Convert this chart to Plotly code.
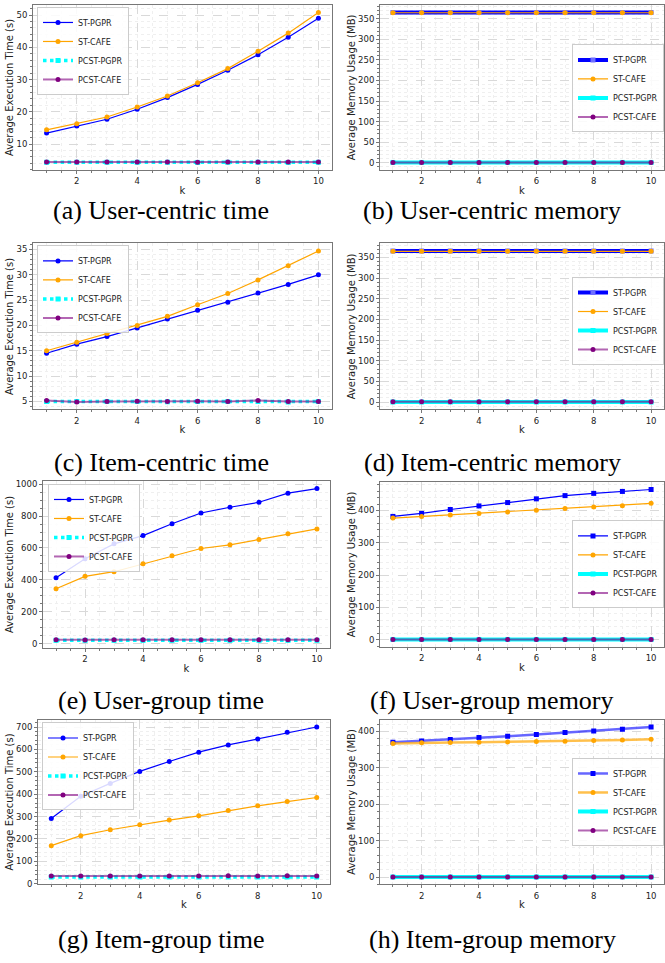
import plotly.graph_objects as go

W, H = 665, 963

k = [1, 2, 3, 4, 5, 6, 7, 8, 9, 10]
series_names = ["ST-PGPR", "ST-CAFE", "PCST-PGPR", "PCST-CAFE"]

# (a) User-centric time (s)
uc_time_st_pgpr = [13.4, 15.6, 17.7, 20.8, 24.4, 28.5, 32.9, 37.7, 43.1, 49.0]
uc_time_st_cafe = [14.4, 16.3, 18.4, 21.5, 24.9, 29.0, 33.4, 38.8, 44.4, 50.8]
uc_time_pcst_pgpr = [4.35, 4.35, 4.35, 4.35, 4.35, 4.3, 4.35, 4.35, 4.3, 4.35]
uc_time_pcst_cafe = [4.4, 4.4, 4.4, 4.45, 4.4, 4.35, 4.4, 4.4, 4.4, 4.4]

# (b) User-centric memory (MB)
uc_mem_st_pgpr = [365.5, 365.5, 365.5, 365.5, 365.5, 365.5, 365.5, 365.5, 365.5, 365.5]
uc_mem_st_cafe = [364.8, 364.8, 364.8, 364.8, 364.8, 364.8, 364.8, 364.8, 364.8, 364.8]
uc_mem_pcst_pgpr = [0.5, 0.5, 0.5, 0.5, 0.5, 0.5, 0.5, 0.5, 0.5, 0.5]
uc_mem_pcst_cafe = [0.6, 0.6, 0.6, 0.6, 0.6, 0.6, 0.6, 0.6, 0.6, 0.6]

# (c) Item-centric time (s)
ic_time_st_pgpr = [14.5, 16.3, 17.8, 19.5, 21.3, 23.0, 24.6, 26.4, 28.1, 30.0]
ic_time_st_cafe = [15.0, 16.7, 18.4, 20.0, 21.8, 24.1, 26.3, 29.0, 31.8, 34.7]
ic_time_pcst_pgpr = [5.0, 5.0, 5.0, 5.0, 4.95, 5.0, 5.0, 5.0, 4.9, 5.0]
ic_time_pcst_cafe = [5.2, 4.9, 5.0, 5.05, 5.0, 5.05, 5.0, 5.2, 5.0, 5.0]

# (d) Item-centric memory (MB)
ic_mem_st_pgpr = [365.5, 365.5, 365.5, 365.5, 365.5, 365.5, 365.5, 365.5, 365.5, 365.5]
ic_mem_st_cafe = [364.8, 364.8, 364.8, 364.8, 364.8, 364.8, 364.8, 364.8, 364.8, 364.8]
ic_mem_pcst_pgpr = [0.5, 0.5, 0.5, 0.5, 0.5, 0.5, 0.5, 0.5, 0.5, 0.5]
ic_mem_pcst_cafe = [0.6, 0.6, 0.6, 0.6, 0.6, 0.6, 0.6, 0.6, 0.6, 0.6]

# (e) User-group time (s)
ug_time_st_pgpr = [413, 532, 626, 678, 752, 820, 856, 887, 944, 973]
ug_time_st_cafe = [344, 422, 451, 501, 551, 597, 620, 653, 689, 720]
ug_time_pcst_pgpr = [20, 20, 20, 20, 20, 20, 20, 20, 20, 20]
ug_time_pcst_cafe = [24, 23, 24, 24, 24, 24, 24, 24, 24, 24]

# (f) User-group memory (MB)
ug_mem_st_pgpr = [381.6, 390.8, 403.0, 414.0, 424.5, 436.0, 446.0, 453.0, 459.0, 465.0]
ug_mem_st_cafe = [376.5, 381.6, 386.0, 391.0, 395.0, 401.0, 406.0, 411.0, 415.0, 422.0]
ug_mem_pcst_pgpr = [0.5, 0.5, 0.5, 0.5, 0.5, 0.5, 0.5, 0.5, 0.5, 0.5]
ug_mem_pcst_cafe = [0.6, 0.6, 0.6, 0.6, 0.6, 0.6, 0.6, 0.6, 0.6, 0.6]

# (g) Item-group time (s)
ig_time_st_pgpr = [291.5, 390.7, 448, 501.7, 546, 587.6, 620, 646.7, 676, 700]
ig_time_st_cafe = [170, 214.6, 241, 263, 284, 303, 327, 348, 367, 385]
ig_time_pcst_pgpr = [30, 30, 30, 30, 30, 30, 30, 30, 30, 30]
ig_time_pcst_cafe = [34, 34, 34, 34, 34, 34, 35, 34, 35, 34]

# (h) Item-group memory (MB)
ig_mem_st_pgpr = [370.0, 373.7, 377.3, 382.8, 386.4, 391.0, 396.4, 400.9, 405.4, 411.8]
ig_mem_st_cafe = [366.4, 368.3, 369.2, 370.0, 371.0, 371.9, 372.8, 374.6, 376.4, 378.2]
ig_mem_pcst_pgpr = [0.5, 0.5, 0.5, 0.5, 0.5, 0.5, 0.5, 0.5, 0.5, 0.5]
ig_mem_pcst_cafe = [0.6, 0.6, 0.6, 0.6, 0.6, 0.6, 0.6, 0.6, 0.6, 0.6]

captions = ["(a) User-centric time", "(b) User-centric memory",
            "(c) Item-centric time", "(d) Item-centric memory",
            "(e) User-group time", "(f) User-group memory",
            "(g) Item-group time", "(h) Item-group memory"]

TIME_TITLE = "Average Execution Time (s)"
MEM_TITLE = "Average Memory Usage (MB)"

BLUE, ORANGE, CYAN, PURPLE = "#0000ff", "#ffa500", "#00ffff", "#800080"


def st_time():
    return [
        dict(line=dict(color=BLUE, width=1.2), marker=dict(symbol="circle", size=5, color=BLUE)),
        dict(line=dict(color=ORANGE, width=1.2), marker=dict(symbol="circle", size=5, color=ORANGE)),
        dict(line=dict(color=CYAN, width=3.5, dash="dot"), marker=dict(symbol="square", size=5, color=CYAN)),
        dict(line=dict(color="rgba(128,0,128,0.6)", width=2), marker=dict(symbol="circle", size=5, color=PURPLE)),
    ]


def st_mem_thick():
    return [
        dict(line=dict(color=BLUE, width=4), marker=dict(symbol="square", size=5, color="rgba(110,110,255,1)")),
        dict(line=dict(color=ORANGE, width=1.2), marker=dict(symbol="circle", size=5, color=ORANGE)),
        dict(line=dict(color=CYAN, width=4), marker=dict(symbol="square", size=5, color=CYAN)),
        dict(line=dict(color="rgba(128,0,128,0.6)", width=2), marker=dict(symbol="circle", size=5, color=PURPLE)),
    ]


def st_mem_f():
    return [
        dict(line=dict(color=BLUE, width=1.2), marker=dict(symbol="square", size=5, color=BLUE)),
        dict(line=dict(color=ORANGE, width=1.2), marker=dict(symbol="circle", size=5, color=ORANGE)),
        dict(line=dict(color=CYAN, width=4), marker=dict(symbol="square", size=5, color=CYAN)),
        dict(line=dict(color="rgba(128,0,128,0.6)", width=2), marker=dict(symbol="circle", size=5, color=PURPLE)),
    ]


def st_mem_h():
    return [
        dict(line=dict(color="rgba(0,0,255,0.6)", width=2.5), marker=dict(symbol="square", size=5, color=BLUE)),
        dict(line=dict(color="rgba(255,165,0,0.7)", width=2.5), marker=dict(symbol="circle", size=5, color=ORANGE)),
        dict(line=dict(color=CYAN, width=4), marker=dict(symbol="square", size=5, color=CYAN)),
        dict(line=dict(color="rgba(128,0,128,0.6)", width=2), marker=dict(symbol="circle", size=5, color=PURPLE)),
    ]


# panel pixel boxes: (left, right, top, bottom)
panels = [
    dict(data=[uc_time_st_pgpr, uc_time_st_cafe, uc_time_pcst_pgpr, uc_time_pcst_cafe],
         box=(33, 332, 3, 169), title=TIME_TITLE, dtick=10, minor=2, styles=st_time(),
         leg=dict(x=37, y=5, xa="left", ya="top"), cap=(161, 210)),
    dict(data=[uc_mem_st_pgpr, uc_mem_st_cafe, uc_mem_pcst_pgpr, uc_mem_pcst_cafe],
         box=(380, 664, 3, 169), title=MEM_TITLE, dtick=50, minor=10, styles=st_mem_thick(),
         leg=dict(x=664, y=87, xa="right", ya="middle"), cap=(492, 210)),
    dict(data=[ic_time_st_pgpr, ic_time_st_cafe, ic_time_pcst_pgpr, ic_time_pcst_cafe],
         box=(33, 332, 243, 410), title=TIME_TITLE, dtick=5, minor=1, styles=st_time(),
         leg=dict(x=37, y=245, xa="left", ya="top"), cap=(161, 463)),
    dict(data=[ic_mem_st_pgpr, ic_mem_st_cafe, ic_mem_pcst_pgpr, ic_mem_pcst_cafe],
         box=(380, 664, 243, 410), title=MEM_TITLE, dtick=50, minor=10, styles=st_mem_thick(),
         leg=dict(x=664, y=321, xa="right", ya="middle"), cap=(492, 463)),
    dict(data=[ug_time_st_pgpr, ug_time_st_cafe, ug_time_pcst_pgpr, ug_time_pcst_cafe],
         box=(43, 330, 482, 650), title=TIME_TITLE, dtick=200, minor=50, styles=st_time(),
         leg=dict(x=48, y=485, xa="left", ya="top"), cap=(161, 703)),
    dict(data=[ug_mem_st_pgpr, ug_mem_st_cafe, ug_mem_pcst_pgpr, ug_mem_pcst_cafe],
         box=(380, 664, 483, 649), title=MEM_TITLE, dtick=100, minor=20, styles=st_mem_f(),
         leg=dict(x=664, y=566, xa="right", ya="middle"), cap=(492, 703)),
    dict(data=[ig_time_st_pgpr, ig_time_st_cafe, ig_time_pcst_pgpr, ig_time_pcst_cafe],
         box=(38, 330, 722, 888), title=TIME_TITLE, dtick=100, minor=20, styles=st_time(),
         leg=dict(x=42, y=725, xa="left", ya="top"), cap=(161, 943)),
    dict(data=[ig_mem_st_pgpr, ig_mem_st_cafe, ig_mem_pcst_pgpr, ig_mem_pcst_cafe],
         box=(380, 664, 722, 888), title=MEM_TITLE, dtick=100, minor=20, styles=st_mem_h(),
         leg=dict(x=664, y=805, xa="right", ya="middle"), cap=(492, 943)),
]

fig = go.Figure()
layout = dict(
    width=W, height=H, margin=dict(l=0, r=0, t=0, b=0),
    paper_bgcolor="white", plot_bgcolor="white", showlegend=True,
    font=dict(family="DejaVu Sans", color="#222222"),
)
annotations = []

GRID = "#d9d9d9"
MINOR_GRID = "#efefef"
FRAME = "#777777"

for i, p in enumerate(panels):
    n = i + 1
    sfx = "" if n == 1 else str(n)
    legname = "legend" if n == 1 else f"legend{n}"
    for name, ys, stl in zip(series_names, p["data"], p["styles"]):
        fig.add_trace(go.Scatter(
            x=k, y=ys, name=name, mode="lines+markers",
            line=stl["line"], marker=stl["marker"],
            xaxis="x" + sfx, yaxis="y" + sfx, legend=legname,
        ))
    l, r, t, b = p["box"]
    allv = [v for s in p["data"] for v in s]
    lo, hi = min(allv), max(allv)
    pad = 0.05 * (hi - lo)
    common = dict(
        showline=True, mirror=True, linecolor=FRAME, linewidth=1,
        ticks="outside", ticklen=3, tickcolor=FRAME, tickfont=dict(size=8.5),
        showgrid=True, gridcolor=GRID, griddash="dash", gridwidth=0.7,
        zeroline=False,
    )
    layout["xaxis" + sfx] = dict(
        common, domain=[l / W, r / W], anchor="y" + sfx,
        range=[0.55, 10.45], tickvals=[2, 4, 6, 8, 10],
        title=dict(text="k", font=dict(size=10), standoff=1),
        minor=dict(dtick=0.5, tick0=0, showgrid=True, gridcolor=MINOR_GRID, griddash="dot",
                   ticks="outside", ticklen=2, tickcolor=FRAME),
    )
    layout["yaxis" + sfx] = dict(
        common, domain=[1 - b / H, 1 - t / H], anchor="x" + sfx,
        range=[lo - pad, hi + pad], dtick=p["dtick"], tick0=0,
        title=dict(text=p["title"], font=dict(size=10), standoff=0),
        minor=dict(dtick=p["minor"], tick0=0, showgrid=True, gridcolor=MINOR_GRID, griddash="dot",
                   ticks="outside", ticklen=2, tickcolor=FRAME),
    )
    lg = p["leg"]
    layout[legname] = dict(
        x=lg["x"] / W, y=1 - lg["y"] / H, xanchor=lg["xa"], yanchor=lg["ya"],
        xref="paper", yref="paper",
        bgcolor="rgba(255,255,255,0.85)", bordercolor="#cccccc", borderwidth=1,
        font=dict(size=8, family="DejaVu Sans", color="#222222"),
        tracegroupgap=0, itemwidth=30,
    )
    cx, cy = p["cap"]
    annotations.append(dict(
        text=captions[i], x=cx / W, y=1 - cy / H, xref="paper", yref="paper",
        xanchor="center", yanchor="middle", showarrow=False,
        font=dict(family="Liberation Serif", size=26, color="#000000"),
    ))

layout["annotations"] = annotations
fig.update_layout(**layout)
fig.write_html("out.html", config={"displayModeBar": False},
               post_script="document.body.style.margin='0px';document.body.style.overflow='hidden';")
